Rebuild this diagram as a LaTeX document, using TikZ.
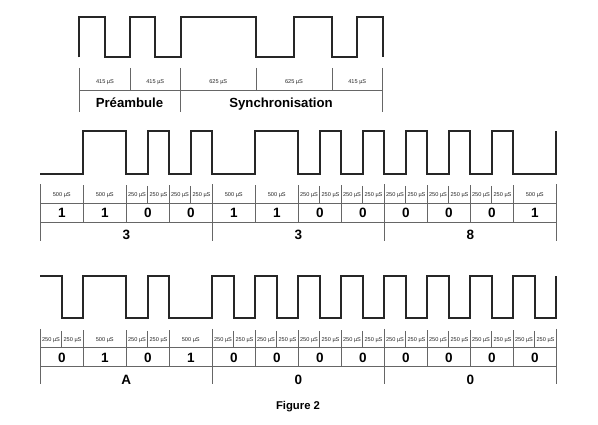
\documentclass[tikz,border=0pt]{standalone}
\usepackage{fontspec}
\usepackage{xcolor}
\usepackage{tikz}
\setmainfont{Liberation Sans}

\begin{document}
\begin{tikzpicture}[x=1pt, y=-1pt]
	\tikzstyle{signal} = [line width=1.9pt, black!85, line join=miter]
	\tikzstyle{rule} = [line width=0.9pt, black!60]
	\tikzstyle{micro} = [inner sep=0pt, text=black!85, font=\fontsize{5.6}{6}\selectfont]
	\tikzstyle{digit} = [inner sep=0pt, font=\fontsize{13.5}{15}\selectfont\bfseries]
	\tikzstyle{label} = [inner sep=0pt, anchor=base, font=\fontsize{13.2}{15}\selectfont\bfseries]
	\useasboundingbox (0,0) rectangle (598,425);

	% preamble and synchronisation
	\draw [signal] (79.3,57.3) |- (105,16.7) |- (130,57.3) |- (155.3,16.7) |- (180.7,57.3) |- (256,16.7) |- (294.3,57.3) |- (332,16.7) |- (357.3,57.3) |- (382.7,16.7) -- (382.7,57.3);
	\draw [rule] (79.3,90) -- (382.7,90);
	\foreach \x in {79.3,180.7,382.7}
		\draw [rule] (\x,68) -- (\x,111.7);
	\foreach \x in {130,256,332}
		\draw [rule] (\x,68) -- (\x,90);
	\node[micro] at (105,82) (t1) {415 µS};
	\node[micro] at (155.3,82) (t2) {415 µS};
	\node[micro] at (218.3,82) (t3) {625 µS};
	\node[micro] at (294,82) (t4) {625 µS};
	\node[micro] at (357.3,82) (t5) {415 µS};
	\node[label] at (129.5,107.8) (pre) {Préambule};
	\node[label] at (281,107.8) (sync) {Synchronisation};

	% frame 3 3 8
	\draw [signal] (40.3,174) -- (83.3,174) |- (126.3,131) |- (147.8,174) |- (169.3,131) |- (190.8,174) |- (212.3,131) |- (255.3,174) |- (298.3,131) |- (319.8,174) |- (341.3,131) |- (362.8,174) |- (384.3,131) |- (405.8,174) |- (427.3,131) |- (448.8,174) |- (470.3,131) |- (491.8,174) |- (513.3,131) |- (556.3,174) -- (556.3,131);
	\draw [rule] (40.3,203.3) -- (556.3,203.3);
	\draw [rule] (40.3,222) -- (556.3,222);
	\foreach \c in {0,4,8,12}
		\draw [rule] (40.3+43*\c,184.3) -- (40.3+43*\c,240.7);
	\foreach \c in {1,2,3,5,6,7,9,10,11}
		\draw [rule] (40.3+43*\c,185.5) -- (40.3+43*\c,222);
	\foreach \c in {0,1,4,5,11}
		\node[micro] at (61.8+43*\c,195) (ma\c) {500 µS};
	\foreach \c in {2,3,6,7,8,9,10} {
		\draw [rule] (61.8+43*\c,186) -- (61.8+43*\c,203.3);
		\node[micro] at (51.05+43*\c,195) (mb\c) {250 µS};
		\node[micro] at (72.55+43*\c,195) (mc\c) {250 µS};
	}
	\foreach \c/\b in {0/1,1/1,2/0,3/0,4/1,5/1,6/0,7/0,8/0,9/0,10/0,11/1}
		\node[digit] at (61.8+43*\c,213) (md\c) {\b};
	\node[digit] at (126.3,235) (h1) {3};
	\node[digit] at (298.3,235) (h2) {3};
	\node[digit] at (470.3,235) (h3) {8};

	% frame A 0 0
	\draw [signal] (40.3,276) -- (61.8,276) |- (83.3,318.3) |- (126.3,276) |- (147.8,318.3) |- (169.3,276) |- (212.3,318.3) |- (233.8,276) |- (255.3,318.3) |- (276.8,276) |- (298.3,318.3) |- (319.8,276) |- (341.3,318.3) |- (362.8,276) |- (384.3,318.3) |- (405.8,276) |- (427.3,318.3) |- (448.8,276) |- (470.3,318.3) |- (491.8,276) |- (513.3,318.3) |- (534.8,276) |- (556.3,318.3) -- (556.3,276);
	\draw [rule] (40.3,347.3) -- (556.3,347.3);
	\draw [rule] (40.3,366) -- (556.3,366);
	\foreach \c in {0,4,8,12}
		\draw [rule] (40.3+43*\c,329) -- (40.3+43*\c,384.3);
	\foreach \c in {1,2,3,5,6,7,9,10,11}
		\draw [rule] (40.3+43*\c,330.5) -- (40.3+43*\c,366);
	\foreach \c in {1,3}
		\node[micro] at (61.8+43*\c,340) (na\c) {500 µS};
	\foreach \c in {0,2,4,5,6,7,8,9,10,11} {
		\draw [rule] (61.8+43*\c,331) -- (61.8+43*\c,347.3);
		\node[micro] at (51.05+43*\c,340) (nb\c) {250 µS};
		\node[micro] at (72.55+43*\c,340) (nc\c) {250 µS};
	}
	\foreach \c/\b in {0/0,1/1,2/0,3/1,4/0,5/0,6/0,7/0,8/0,9/0,10/0,11/0}
		\node[digit] at (61.8+43*\c,357.5) (nd\c) {\b};
	\node[digit] at (126.3,380) (h4) {A};
	\node[digit] at (298.3,380) (h5) {0};
	\node[digit] at (470.3,380) (h6) {0};

	\node[inner sep=0pt, font=\fontsize{11.3}{13}\selectfont\bfseries] at (298,407) (fig) {Figure 2};
\end{tikzpicture}
\end{document}
